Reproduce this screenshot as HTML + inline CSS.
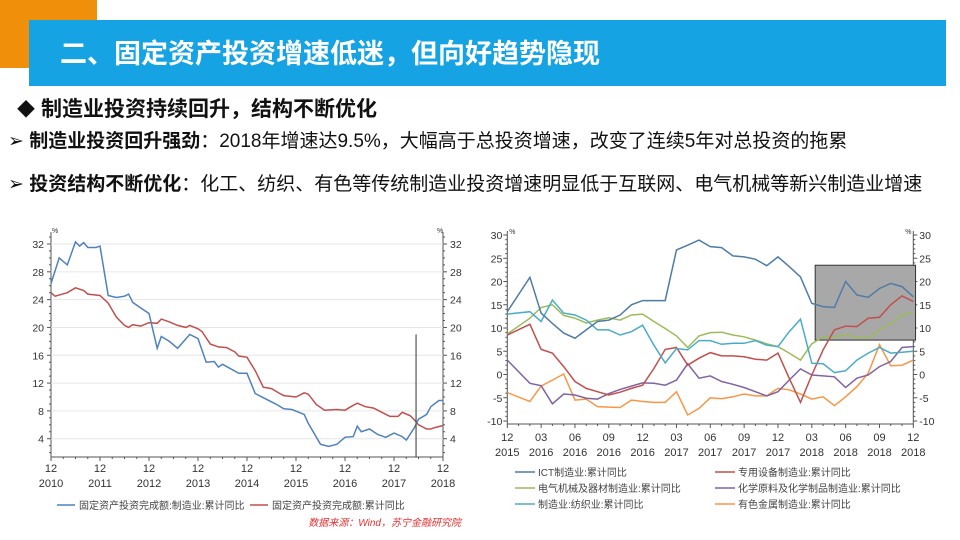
<!DOCTYPE html>
<html><head><meta charset="utf-8">
<style>
html,body{margin:0;padding:0;background:#fff;width:960px;height:540px;overflow:hidden}
svg text{font-family:"Liberation Sans","Noto Sans CJK SC",sans-serif}
</style></head>
<body>
<svg id="page" width="960" height="540" viewBox="0 0 960 540" xmlns="http://www.w3.org/2000/svg">
<rect x="0" y="0" width="97" height="68" fill="#f0900a"/>
<rect x="29" y="20" width="917" height="66" fill="#15a3e3"/>
<text x="60" y="63" font-size="27" font-weight="bold" fill="#fff">二、固定资产投资增速低迷，但向好趋势隐现</text>
<text x="17" y="116" font-size="18" fill="#111">◆</text>
<text x="41" y="116" font-size="21" font-weight="bold" fill="#111">制造业投资持续回升，结构不断优化</text>
<text x="8" y="147" font-size="19" fill="#111">➢ <tspan font-weight="bold">制造业投资回升强劲</tspan>：2018年增速达9.5%，大幅高于总投资增速，改变了连续5年对总投资的拖累</text>
<text x="8" y="190" font-size="19" fill="#111">➢ <tspan font-weight="bold">投资结构不断优化</tspan>：化工、纺织、有色等传统制造业投资增速明显低于互联网、电气机械等新兴制造业增速</text>
<g id="left"></g>
<g id="right"></g>
</svg>
<script>
// ---------- Left chart data ----------
const leftYearLabels = ["2010","2011","2012","2013","2014","2015","2016","2017","2018"];
const leftYTicks = [4,8,12,16,20,24,28,32];
const mfgMonths = [0,2,4,6,7,8,9,11,12,14,16,18,19,20,22,24,26,27,29,31,34,36,38,40,41,42,46,48,50,52,55,57,59,62,63,66,68,70,72,74,75,76,78,80,82,84,86,87,89,90,92,93,95,96];
const mfgValues = [26.3,30,29,32.3,31.7,32.2,31.5,31.5,31.7,24.6,24.3,24.5,24.8,23.6,22.8,22,17,18.7,18,17,19,18.4,15,15.1,14.3,14.7,13.4,13.4,10.5,9.9,9.0,8.3,8.2,7.5,6.2,3.2,2.9,3.2,4.2,4.3,5.8,5.0,5.4,4.6,4.2,4.8,4.3,3.8,5.6,6.8,7.5,8.6,9.5,9.5];
const totalMonths = [0,1,4,6,8,9,12,14,16,18,19,20,22,24,26,27,29,31,33,34,36,37,38,39,41,43,45,46,48,50,52,54,56,57,60,62,63,65,67,70,72,74,75,77,79,81,83,85,86,88,89,90,92,93,94,96];
const totalValues = [25,24.5,25,25.7,25.3,24.8,24.6,23.5,21.5,20.3,20,20.4,20.2,20.7,20.6,21.2,20.8,20.3,20,20.3,19.8,19.4,18.5,17.6,17.2,17.1,16.5,15.9,15.7,13.8,11.4,11.2,10.5,10.2,10,10.6,10.4,8.9,8.1,8.2,8.1,8.8,9.1,8.6,8.4,7.8,7.2,7.2,7.8,7.3,6.7,6.0,5.4,5.4,5.6,5.9];
const markerMonth = [89.4];
const markerTop = [19];

// ---------- Right chart data ----------
const rightXLabels = [["12","2015"],["03","2016"],["06","2016"],["09","2016"],["12","2016"],["03","2017"],["06","2017"],["09","2017"],["12","2017"],["03","2018"],["06","2018"],["09","2018"],["12","2018"]];
const rightYTicks = [-10,-5,0,5,10,15,20,25,30];
const rMonths = [0,2,3,4,5,6,7,8,9,10,11,12,13,14,15,16,17,18,19,20,21,22,23,24,25,26,27,28,29,30,31,32,33,34,35,36];
const ictValues = [13.5,20.9,13.2,11,8.9,7.8,9.6,11.4,11.7,12.8,15,15.9,15.9,15.9,26.8,27.8,28.9,27.5,27.3,25.5,25.3,24.8,23.4,25.3,23.2,21,15.3,14.6,14.4,20,17.1,16.6,18.5,19.6,18.9,16.7];
const equipValues = [8.5,10.8,5.4,4.6,1.7,-1.5,-3,-3.7,-4.4,-3.8,-3,-2.3,1.3,5.4,5.8,2,3.5,4.7,4,4,3.8,3.3,3.1,4.6,-0.8,-6,-0.1,5.3,9.6,10.4,10.3,12.1,12.3,15,16.9,15.7];
const elecValues = [8.7,12.1,14.4,15,12.7,12.1,11.1,11.7,12.2,11.7,12.8,13,11.4,9.9,8.3,5.8,8.3,9,9.1,8.5,8.1,7.4,6.6,6,4.6,3.1,6.6,8.1,8.1,8.5,8,7.8,9.6,11,12.8,13.3];
const chemValues = [3.1,-1.9,-2.4,-6.3,-4.2,-4.4,-5.1,-5.3,-4.1,-3.2,-2.5,-1.8,-1.9,-2.3,-1.2,2.3,-0.8,-0.3,-1.5,-2.1,-2.8,-3.7,-4.6,-3.7,-1.2,1.2,-0.1,-0.3,-0.5,-2.8,-0.8,-0.1,1.7,2.8,5.8,6];
const textileValues = [13,13.5,11.4,16,13.2,12.8,11.7,9.6,9.6,8.5,9.2,10.6,6.3,2.5,5.6,5.3,7.3,7.3,6.5,6.7,6.7,7.3,6.3,6,9.2,11.9,2.4,2.3,0.4,0.8,3.1,4.6,5.8,4.6,4.8,5];
const metalValues = [-3.9,-5.8,-2.5,-1.2,0.1,-5.5,-5.3,-6.9,-7,-7.1,-5.5,-5.8,-6,-6,-3.7,-8.7,-7.3,-5,-5.2,-4.8,-4.2,-4.6,-4.6,-3,-3.3,-4.2,-5.3,-4.8,-6.7,-4.8,-2.6,0.3,6.4,1.9,2,3.1];
const highlightMonths = [27.3,36.2];
const highlightRange = [7.4,23.5];
const seriesNames = ["ICT制造业:累计同比","专用设备制造业:累计同比","电气机械及器材制造业:累计同比","化学原料及化学制品制造业:累计同比","制造业:纺织业:累计同比","有色金属制造业:累计同比"];

const NS="http://www.w3.org/2000/svg";
function mk(tag,attrs,parent,txt){const e=document.createElementNS(NS,tag);for(const k in attrs)e.setAttribute(k,attrs[k]);if(txt!==undefined)e.textContent=txt;parent.appendChild(e);return e;}

// ---------- Left chart ----------
(function(){
const g=document.getElementById('left');
const x0=51,x1=443,yTop=232,yBot=457;
const lx=m=>x0+(x1-x0)*m/96;
const ly=v=>244+(32-v)*(438.7-244)/28;
const ax=mk('path',{d:`M${x0},${yTop}V${yBot}H${x1}V${yTop}`,fill:'none',stroke:'#555','stroke-width':1},g);


for(let v=2;v<=33;v++){const y=ly(v);const big=v%4===0;
 mk('line',{x1:x0-(big?4:2),x2:x0,y1:y,y2:y,stroke:'#555'},g);
 mk('line',{x1:x1,x2:x1+(big?4:2),y1:y,y2:y,stroke:'#555'},g);}
leftYTicks.forEach(v=>{const y=ly(v);
 mk('line',{x1:x0,x2:x1,y1:y,y2:y,stroke:'#e6e6e6'},g);
 const t1=mk('text',{x:x0-7,y:y+4,'font-size':10.5,'text-anchor':'end',fill:'#333'},g,String(v));
 
 
 const t2=mk('text',{x:x1+7,y:y+4,'font-size':10.5,fill:'#333'},g,String(v));
 
 });
mk('text',{x:x0+1,y:yTop+1,'font-size':7,fill:'#333'},g,'%');
mk('text',{x:x1-6,y:yTop+1,'font-size':7,fill:'#333'},g,'%');
for(let m=0;m<=96;m+=3){mk('line',{x1:lx(m),x2:lx(m),y1:yBot,y2:yBot+(m%12===0?4:2),stroke:'#555'},g);}
leftYearLabels.forEach((yr,i)=>{const x=lx(i*12);
 const t=mk('text',{x:x,y:472,'font-size':11,'text-anchor':'middle',fill:'#333'},g,'12');
 
 
 const t2=mk('text',{x:x,y:487,'font-size':11,'text-anchor':'middle',fill:'#333'},g,yr);
 
 });
function line(ms,vs,color,name){const d=ms.map((m,i)=>(i?'L':'M')+lx(m).toFixed(1)+','+ly(vs[i]).toFixed(1)).join('');
 const p=mk('path',{d:d,fill:'none',stroke:color,'stroke-width':1.5},g);
 
 }
line(totalMonths,totalValues,'#c0504d','total-investment-line');
line(mfgMonths,mfgValues,'#4f81bd','manufacturing-line');
const vl=mk('line',{x1:lx(markerMonth[0]),x2:lx(markerMonth[0]),y1:ly(markerTop[0]),y2:yBot,stroke:'#555','stroke-width':1.2},g);


mk('line',{x1:57,x2:75,y1:505,y2:505,stroke:'#4f81bd','stroke-width':1.5},g);
const l1=mk('text',{x:79,y:509,'font-size':10,fill:'#444'},g,'固定资产投资完成额:制造业:累计同比');


mk('line',{x1:250,x2:268,y1:505,y2:505,stroke:'#c0504d','stroke-width':1.5},g);
const l2=mk('text',{x:272,y:509,'font-size':10,fill:'#444'},g,'固定资产投资完成额:累计同比');


const s=mk('text',{x:461,y:526,'font-size':10,'font-style':'italic','text-anchor':'end',fill:'#e03030'},g,'数据来源：Wind，苏宁金融研究院');


})();

// ---------- Right chart ----------
(function(){
const g=document.getElementById('right');
const x0=507.3,x1=913.3,yTop=231,yBot=424;
const rx=m=>x0+(x1-x0)*m/36;
const ry=v=>235+(30-v)*(421-235)/40;
const ax=mk('path',{d:`M${x0},${yTop}V${yBot}H${x1}V${yTop}`,fill:'none',stroke:'#555','stroke-width':1},g);


for(let v=-10;v<=30;v++){const y=ry(v);const big=v%5===0;
 mk('line',{x1:x0-(big?4:2),x2:x0,y1:y,y2:y,stroke:'#555'},g);
 mk('line',{x1:x1,x2:x1+(big?4:2),y1:y,y2:y,stroke:'#555'},g);}
rightYTicks.forEach(v=>{const y=ry(v);
 const t1=mk('text',{x:x0-5,y:y+4,'font-size':10.5,'text-anchor':'end',fill:'#333'},g,String(v));
 
 
 const t2=mk('text',{x:x1+6,y:y+4,'font-size':10.5,fill:'#333'},g,String(v));
 
 });
mk('text',{x:x0+2,y:yTop+3,'font-size':7,fill:'#333'},g,'%');
mk('text',{x:x1-8,y:yTop+3,'font-size':7,fill:'#333'},g,'%');
for(let m=0;m<=36;m++){mk('line',{x1:rx(m),x2:rx(m),y1:yBot,y2:yBot+(m%3===0?4:2),stroke:'#555'},g);}
rightXLabels.forEach((lb,i)=>{const x=rx(i*3);
 const t=mk('text',{x:x,y:441,'font-size':11,'text-anchor':'middle',fill:'#333'},g,lb[0]);
 
 
 const t2=mk('text',{x:x,y:456,'font-size':11,'text-anchor':'middle',fill:'#333'},g,lb[1]);
 
 });
const hb=mk('rect',{x:rx(highlightMonths[0]),y:ry(highlightRange[1]),width:rx(highlightMonths[1])-rx(highlightMonths[0]),height:ry(highlightRange[0])-ry(highlightRange[1]),fill:'#a8a8a8',stroke:'#333','stroke-width':1},g);


const series=[ictValues,equipValues,elecValues,chemValues,textileValues,metalValues];
const colors=['#4f7ca6','#c0504d','#9bbb59','#8064a2','#4bacc6','#f79646'];
const names=['ict-line','equipment-line','electrical-line','chemical-line','textile-line','nonferrous-line'];
[5,3,2,1,4,0].forEach(k=>{const vs=series[k];
 const d=rMonths.map((m,i)=>(i?'L':'M')+rx(m).toFixed(1)+','+ry(vs[i]).toFixed(1)).join('');
 const p=mk('path',{d:d,fill:'none',stroke:colors[k],'stroke-width':1.5},g);
 
 });
seriesNames.forEach((n,k)=>{const col=k%2,row=Math.floor(k/2);
 const lx0=col?715:515,y=472+row*16;
 mk('line',{x1:lx0,x2:lx0+20,y1:y,y2:y,stroke:colors[k],'stroke-width':1.5},g);
 const t=mk('text',{x:lx0+23,y:y+4,'font-size':10,fill:'#444'},g,n);
 
 });
})();
</script>
</body></html>
